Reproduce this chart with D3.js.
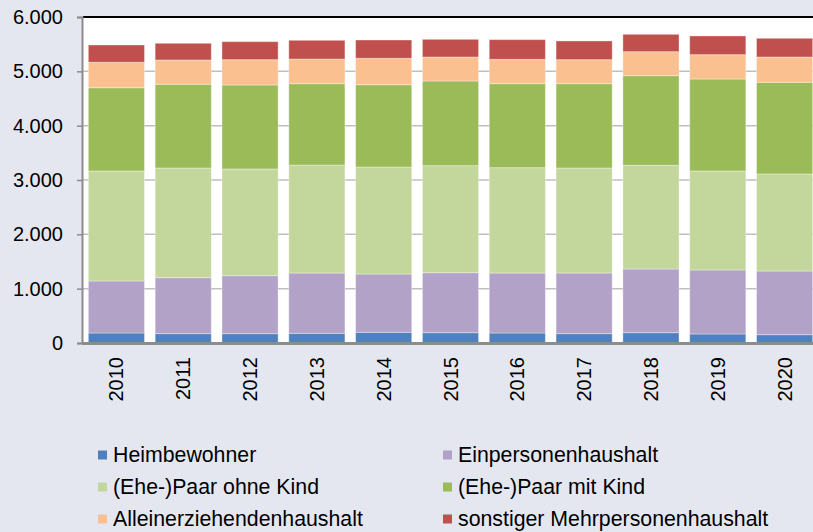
<!DOCTYPE html>
<html>
<head>
<meta charset="utf-8">
<script src="https://cdn.jsdelivr.net/npm/d3@7"></script>
<style>
  body { margin: 0; background: #e4e7f0; }
  svg { display: block; font-family: Arial, "Liberation Sans", sans-serif; }
</style>
</head>
<body>
<div class="chart"></div>
<script>
const years = ["2010", "2011", "2012", "2013", "2014", "2015", "2016", "2017", "2018", "2019", "2020"];
const seriesNames = ["Heimbewohner", "Einpersonenhaushalt", "(Ehe-)Paar ohne Kind", "(Ehe-)Paar mit Kind", "Alleinerziehendenhaushalt", "sonstiger Mehrpersonenhaushalt"];
const heimbewohner = [184, 172, 172, 178, 197, 190, 184, 172, 190, 166, 153];
const einpersonen = [957, 1030, 1067, 1110, 1073, 1104, 1104, 1116, 1172, 1178, 1172];
const paarOhneKind = [2025, 2019, 1964, 1988, 1969, 1970, 1939, 1933, 1908, 1822, 1786];
const paarMitKind = [1533, 1541, 1546, 1497, 1515, 1558, 1546, 1552, 1650, 1693, 1687];
const alleinerziehend = [468, 447, 466, 454, 486, 442, 448, 442, 442, 448, 466];
const sonstige = [318, 307, 331, 344, 337, 325, 362, 344, 319, 344, 344];
const yTicks = [0, 1000, 2000, 3000, 4000, 5000, 6000];
const colors = ["#4f81bd", "#b2a2c7", "#c3d69b", "#9bbb59", "#fac090", "#c0504d"];

const w = 813, h = 532;
const margin = { top: 17, left: 83, bottom: 343, right: 818 };

const table = years.map((yr, i) => ({
  year: yr,
  s0: heimbewohner[i], s1: einpersonen[i], s2: paarOhneKind[i],
  s3: paarMitKind[i], s4: alleinerziehend[i], s5: sonstige[i]
}));
const keys = ["s0", "s1", "s2", "s3", "s4", "s5"];
const stacked = d3.stack().keys(keys)(table);

const x = d3.scaleBand().domain(years).range([margin.left, margin.right])
  .paddingInner(0.16).paddingOuter(0.08);
const y = d3.scaleLinear().domain([0, 6000]).range([margin.bottom, margin.top]);

const svg = d3.select(".chart").append("svg").attr("width", w).attr("height", h);
svg.append("rect").attr("width", w).attr("height", h).attr("fill", "#e4e7f0");

// plot area
svg.append("rect")
  .attr("x", margin.left).attr("y", margin.top)
  .attr("width", margin.right - margin.left).attr("height", margin.bottom - margin.top)
  .attr("fill", "#fff");

// gridlines
svg.append("g").selectAll("line")
  .data(yTicks.filter(d => d > 0 && d < 6000))
  .enter().append("line")
  .attr("x1", margin.left).attr("x2", margin.right)
  .attr("y1", d => y(d)).attr("y2", d => y(d))
  .attr("stroke", "#bfbfbf").attr("stroke-width", 1.5);

// bars
svg.append("g").selectAll("g")
  .data(stacked)
  .enter().append("g")
  .attr("fill", (d, i) => colors[i])
  .selectAll("rect")
  .data(d => d)
  .enter().append("rect")
  .attr("x", d => x(d.data.year))
  .attr("width", x.bandwidth())
  .attr("y", d => y(d[1]))
  .attr("height", d => y(d[0]) - y(d[1]))
  .attr("stroke", "rgba(255,255,255,0.35)")
  .attr("stroke-width", 1);

// top border
svg.append("line")
  .attr("x1", margin.left).attr("x2", w)
  .attr("y1", margin.top).attr("y2", margin.top)
  .attr("stroke", "#000").attr("stroke-width", 2);

// y axis
const yAxis = svg.append("g")
  .attr("transform", "translate(" + (margin.left - 1) + ",0)")
  .call(d3.axisLeft(y).tickValues(yTicks).tickSize(5).tickPadding(14)
    .tickFormat(d => d3.format(",")(d).replace(/,/g, ".")));
yAxis.select(".domain").attr("stroke", "#8c8c8c").attr("stroke-width", 2);
yAxis.selectAll(".tick line").attr("stroke", "#8c8c8c").attr("stroke-width", 1.5);
yAxis.selectAll("text").attr("font-size", 20).attr("fill", "#000")
  .attr("font-family", "Arial, 'Liberation Sans', sans-serif");

// x axis
const xAxis = svg.append("g")
  .attr("transform", "translate(0," + margin.bottom + ")")
  .call(d3.axisBottom(x).tickSize(0).tickPadding(0));
xAxis.select(".domain").remove();
svg.append("line")
  .attr("x1", margin.left - 1).attr("x2", w)
  .attr("y1", margin.bottom + 0.5).attr("y2", margin.bottom + 0.5)
  .attr("stroke", "#8c8c8c").attr("stroke-width", 3);
xAxis.selectAll("text")
  .attr("font-size", 20).attr("fill", "#000")
  .attr("font-family", "Arial, 'Liberation Sans', sans-serif")
  .attr("text-anchor", "end")
  .attr("dy", "0.35em")
  .attr("transform", "translate(0,14) rotate(-90)");

// legend
const legend = svg.append("g").selectAll("g")
  .data(seriesNames)
  .enter().append("g")
  .attr("transform", (d, i) => "translate(" + (i % 2 === 0 ? 98 : 443) + "," + (455 + Math.floor(i / 2) * 32) + ")");
legend.append("rect")
  .attr("x", 0).attr("y", -4.5).attr("width", 9).attr("height", 9)
  .attr("fill", (d, i) => colors[i]);
legend.append("text")
  .attr("x", 15).attr("dy", "0.35em")
  .attr("font-size", 21.3).attr("fill", "#000")
  .text(d => d);
</script>
</body>
</html>
